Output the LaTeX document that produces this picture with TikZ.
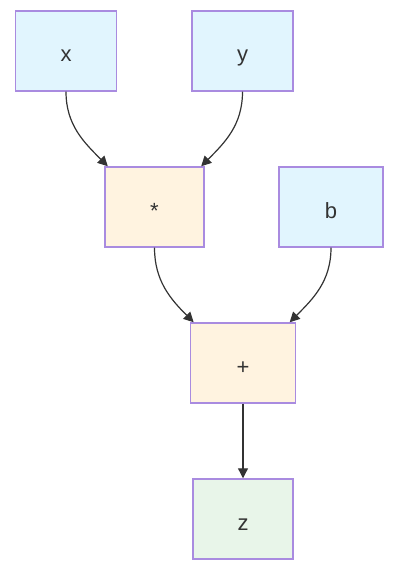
\documentclass[tikz,border=0pt]{standalone}
\usepackage{fontspec}
\setmainfont{Liberation Sans}
\usetikzlibrary{arrows.meta}
\definecolor{boxline}{HTML}{A98BE0}
\definecolor{inblue}{HTML}{E1F5FE}
\definecolor{oporange}{HTML}{FFF3E0}
\definecolor{outgreen}{HTML}{E8F5E9}
\definecolor{ink}{HTML}{333333}
\tikzset{
    varnode/.style={
        draw=boxline, line width=1.1pt, fill=inblue,
        font=\fontsize{16.5}{19}\selectfont, text=ink,
        text height=16.5pt, text depth=0pt,
        minimum width=76pt, minimum height=60pt, inner sep=0pt
    },
    opnode/.style={varnode, fill=oporange},
    outnode/.style={varnode, fill=outgreen},
    flow/.style={draw=ink, line width=0.9pt, -{Triangle[length=7.5pt,width=7.5pt]}}
}

\begin{document}
\begin{tikzpicture}[x=0.75pt, y=-0.75pt]
\useasboundingbox (0,0) rectangle (400,577);
% 节点
\node[varnode] (x) at (66,51) {x};
\node[varnode] (y) at (242.5,51) {y};
\node[opnode, minimum width=74pt] (mul) at (154.5,207) {*};
\node[varnode, minimum width=78pt] (b) at (331,207) {b};
\node[opnode, minimum width=79pt] (add) at (243,363) {+};
\node[outnode, minimum width=75pt] (z) at (243,519) {z};

% 边
\draw[flow] (x.south) to[out=-90, in=135] ([xshift=-35pt]mul.north);
\draw[flow] (y.south) to[out=-90, in=45] ([xshift=35pt]mul.north);
\draw[flow] (mul.south) to[out=-90, in=135] ([xshift=-37pt]add.north);
\draw[flow] (b.south) to[out=-90, in=45] ([xshift=35pt]add.north);
\draw[flow] (add) -- (z);
\end{tikzpicture}
\end{document}
